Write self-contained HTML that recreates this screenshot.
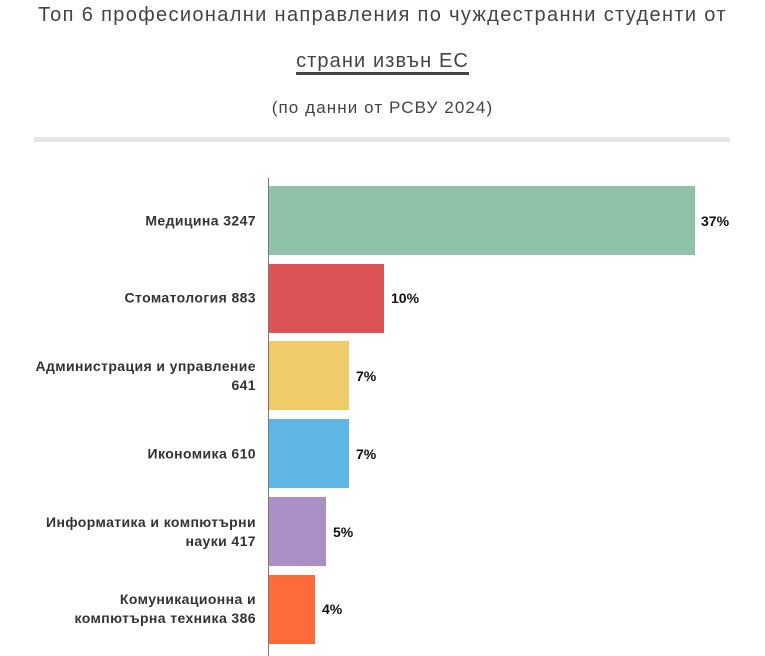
<!DOCTYPE html>
<html><head><meta charset="utf-8"><style>
body{margin:0;width:765px;height:656px;background:#fff;font-family:"Liberation Sans","DejaVu Sans",sans-serif;position:relative;overflow:hidden}
.t{position:absolute;left:0;width:765px;text-align:center;color:#444}
.u{text-decoration:underline;text-decoration-thickness:3px;text-underline-offset:5px;text-decoration-color:#444}
.band{position:absolute;left:34px;top:137px;width:696px;height:5px;background:#e6e6e6}
.axis{position:absolute;left:268px;top:178px;width:1px;height:478px;background:#777}
.bar{position:absolute;left:269px;height:69px}
.lab{position:absolute;right:509px;width:250px;text-align:right;font-size:14px;font-weight:bold;color:#333;line-height:19px;letter-spacing:0.4px;transform:translateY(-50%)}
.pc{position:absolute;font-size:14px;font-weight:bold;color:#111;transform:translateY(-50%)}
</style></head><body>
<div class="t" style="top:4px;font-size:20px;letter-spacing:1.35px">Топ 6 професионални направления по чуждестранни студенти от</div>
<div class="t" style="top:50px;font-size:20px;letter-spacing:1.1px"><span class="u">страни извън ЕС</span></div>
<div class="t" style="top:98px;font-size:17px;letter-spacing:1.1px">(по данни от РСВУ 2024)</div>
<div class="band"></div>
<div class="axis"></div>
<div class="bar" style="top:186px;width:426px;background:#8fc3a8"></div>
<div class="bar" style="top:264px;width:115px;background:#dd5457"></div>
<div class="bar" style="top:341px;width:80px;background:#efcb6a"></div>
<div class="bar" style="top:419px;width:80px;background:#5fb6e4"></div>
<div class="bar" style="top:497px;width:57px;background:#ab90c8"></div>
<div class="bar" style="top:575px;width:46px;background:#fe6b3a"></div>
<div class="lab" style="top:221px">Медицина 3247</div>
<div class="lab" style="top:298px">Стоматология 883</div>
<div class="lab" style="top:376px">Администрация и управление<br>641</div>
<div class="lab" style="top:454px">Икономика 610</div>
<div class="lab" style="top:532px">Информатика и компютърни<br>науки 417</div>
<div class="lab" style="top:609px">Комуникационна и<br>компютърна техника 386</div>
<div class="pc" style="top:221px;left:701px">37%</div>
<div class="pc" style="top:298px;left:391px">10%</div>
<div class="pc" style="top:376px;left:356px">7%</div>
<div class="pc" style="top:454px;left:356px">7%</div>
<div class="pc" style="top:532px;left:333px">5%</div>
<div class="pc" style="top:609px;left:322px">4%</div>
</body></html>
